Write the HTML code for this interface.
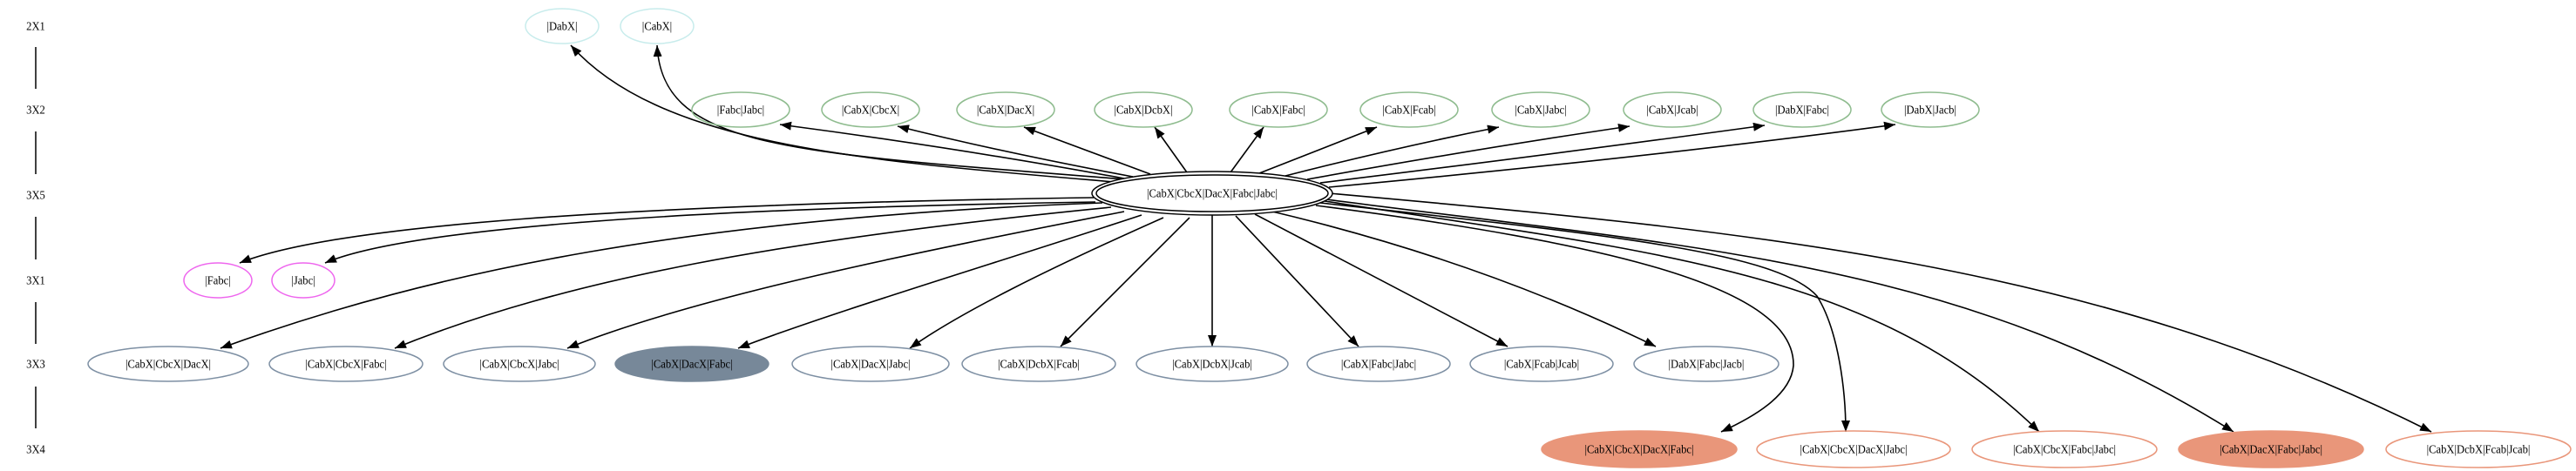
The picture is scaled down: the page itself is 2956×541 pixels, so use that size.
<!DOCTYPE html>
<html><head><meta charset="utf-8"><style>
html,body{margin:0;padding:0;background:#fff;}
svg{display:block;}
text{font-family:"Liberation Serif",serif;font-size:14px;text-anchor:middle;dominant-baseline:central;fill:#000;transform-box:fill-box;transform-origin:center;transform:scaleX(0.9);}
</style></head><body>
<svg width="2956" height="541" viewBox="0 0 2956 541" xmlns="http://www.w3.org/2000/svg">
<defs>
<marker id="a" markerUnits="userSpaceOnUse" markerWidth="14" markerHeight="10" refX="13" refY="5" orient="auto">
<path d="M0,0 L13,5 L0,10 Z" fill="#000"/>
</marker>
</defs>
<text x="41" y="30">2X1</text>
<text x="41" y="126">3X2</text>
<text x="41" y="224">3X5</text>
<text x="41" y="322">3X1</text>
<text x="41" y="418">3X3</text>
<text x="41" y="516">3X4</text>
<g stroke="#000" stroke-width="1.5">
<line x1="41" y1="54" x2="41" y2="102"/>
<line x1="41" y1="151" x2="41" y2="200"/>
<line x1="41" y1="249" x2="41" y2="298"/>
<line x1="41" y1="347" x2="41" y2="395"/>
<line x1="41" y1="444" x2="41" y2="492"/>
</g>
<g fill="none" stroke="#000" stroke-width="1.6" marker-end="url(#a)">
<path d="M1290,210 C1000,185 760,170 655,52"/>
<path d="M1292,206 C900,175 760,170 754,52"/>
<path d="M1290,205 Q1100,170 895,143"/>
<path d="M1300,203 Q1150,175 1030,145"/>
<path d="M1320,200 L1175,146"/>
<path d="M1362,198 L1325,146"/>
<path d="M1412,198 L1450,146"/>
<path d="M1445,199 L1580,146"/>
<path d="M1475,202 Q1600,170 1720,146"/>
<path d="M1500,206 Q1700,170 1870,145"/>
<path d="M1515,210 Q1800,175 2025,144"/>
<path d="M1525,215 Q1900,180 2175,143"/>
<path d="M1255,227 C700,235 380,260 275,302"/>
<path d="M1257,232 C750,240 460,265 373,302"/>
<path d="M1265,233 C800,250 500,310 253,400"/>
<path d="M1275,238 C900,275 650,320 453,400"/>
<path d="M1290,243 C1050,290 800,340 651,400"/>
<path d="M1310,247 C1150,300 950,360 847,400"/>
<path d="M1335,250 C1200,310 1100,360 1044,400"/>
<path d="M1365,250 L1217,398"/>
<path d="M1391,247 L1391,398"/>
<path d="M1418,248 L1559,398"/>
<path d="M1440,246 L1730,398"/>
<path d="M1460,243 Q1700,300 1900,398"/>
<path d="M1510,236 C1850,280 2060,330 2058,420 C2055,455 2010,480 1975,496"/>
<path d="M1515,233 C1850,270 2040,290 2085,340 C2110,380 2118,450 2118,496"/>
<path d="M1520,231 C1900,290 2150,310 2340,496"/>
<path d="M1522,229 C1950,285 2250,300 2563,496"/>
<path d="M1525,222 C2000,265 2400,300 2790,496"/>
</g>
<g fill="none" stroke="#c8ecec" stroke-width="1.5">
<ellipse cx="645" cy="30" rx="42" ry="20"/>
<ellipse cx="754" cy="30" rx="42" ry="20"/>
</g>
<text x="645" y="30">|DabX|</text>
<text x="754" y="30">|CabX|</text>
<g fill="none" stroke="#8fbc8f" stroke-width="1.5">
<ellipse cx="850" cy="126" rx="56" ry="20"/>
<ellipse cx="999" cy="126" rx="56" ry="20"/>
<ellipse cx="1154" cy="126" rx="56" ry="20"/>
<ellipse cx="1312" cy="126" rx="56" ry="20"/>
<ellipse cx="1467" cy="126" rx="56" ry="20"/>
<ellipse cx="1617" cy="126" rx="56" ry="20"/>
<ellipse cx="1768" cy="126" rx="56" ry="20"/>
<ellipse cx="1919" cy="126" rx="56" ry="20"/>
<ellipse cx="2068" cy="126" rx="56" ry="20"/>
<ellipse cx="2215" cy="126" rx="56" ry="20"/>
</g>
<text x="850" y="126">|Fabc|Jabc|</text>
<text x="999" y="126">|CabX|CbcX|</text>
<text x="1154" y="126">|CabX|DacX|</text>
<text x="1312" y="126">|CabX|DcbX|</text>
<text x="1467" y="126">|CabX|Fabc|</text>
<text x="1617" y="126">|CabX|Fcab|</text>
<text x="1768" y="126">|CabX|Jabc|</text>
<text x="1919" y="126">|CabX|Jcab|</text>
<text x="2068" y="126">|DabX|Fabc|</text>
<text x="2215" y="126">|DabX|Jacb|</text>
<ellipse cx="1391" cy="222" rx="138" ry="25" fill="#fff" stroke="#000" stroke-width="1.5"/>
<ellipse cx="1391" cy="222" rx="133" ry="21" fill="none" stroke="#000" stroke-width="1.5"/>
<text x="1391" y="222">|CabX|CbcX|DacX|Fabc|Jabc|</text>
<g fill="none" stroke="#ee66ee" stroke-width="1.5">
<ellipse cx="250" cy="322" rx="39" ry="20"/>
<ellipse cx="348" cy="322" rx="36" ry="20"/>
</g>
<text x="250" y="322">|Fabc|</text>
<text x="348" y="322">|Jabc|</text>
<g fill="none" stroke="#7d8fa3" stroke-width="1.5">
<ellipse cx="193" cy="418" rx="92" ry="20"/>
<ellipse cx="397" cy="418" rx="88" ry="20"/>
<ellipse cx="596" cy="418" rx="87" ry="20"/>
<ellipse cx="794" cy="418" rx="88" ry="20" fill="#778899" stroke="#778899"/>
<ellipse cx="999" cy="418" rx="90" ry="20"/>
<ellipse cx="1192" cy="418" rx="88" ry="20"/>
<ellipse cx="1391" cy="418" rx="87" ry="20"/>
<ellipse cx="1582" cy="418" rx="82" ry="20"/>
<ellipse cx="1769" cy="418" rx="82" ry="20"/>
<ellipse cx="1958" cy="418" rx="83" ry="20"/>
</g>
<text x="193" y="418">|CabX|CbcX|DacX|</text>
<text x="397" y="418">|CabX|CbcX|Fabc|</text>
<text x="596" y="418">|CabX|CbcX|Jabc|</text>
<text x="794" y="418">|CabX|DacX|Fabc|</text>
<text x="999" y="418">|CabX|DacX|Jabc|</text>
<text x="1192" y="418">|CabX|DcbX|Fcab|</text>
<text x="1391" y="418">|CabX|DcbX|Jcab|</text>
<text x="1582" y="418">|CabX|Fabc|Jabc|</text>
<text x="1769" y="418">|CabX|Fcab|Jcab|</text>
<text x="1958" y="418">|DabX|Fabc|Jacb|</text>
<g stroke="#e9967a" stroke-width="1.5" fill="none">
<ellipse cx="1881" cy="516" rx="112" ry="21" fill="#e9967a"/>
<ellipse cx="2127" cy="516" rx="111" ry="21"/>
<ellipse cx="2369" cy="516" rx="106" ry="21"/>
<ellipse cx="2606" cy="516" rx="106" ry="21" fill="#e9967a"/>
<ellipse cx="2844" cy="516" rx="106" ry="21"/>
</g>
<text x="1881" y="516">|CabX|CbcX|DacX|Fabc|</text>
<text x="2127" y="516">|CabX|CbcX|DacX|Jabc|</text>
<text x="2369" y="516">|CabX|CbcX|Fabc|Jabc|</text>
<text x="2606" y="516">|CabX|DacX|Fabc|Jabc|</text>
<text x="2844" y="516">|CabX|DcbX|Fcab|Jcab|</text>
</svg>
</body></html>
